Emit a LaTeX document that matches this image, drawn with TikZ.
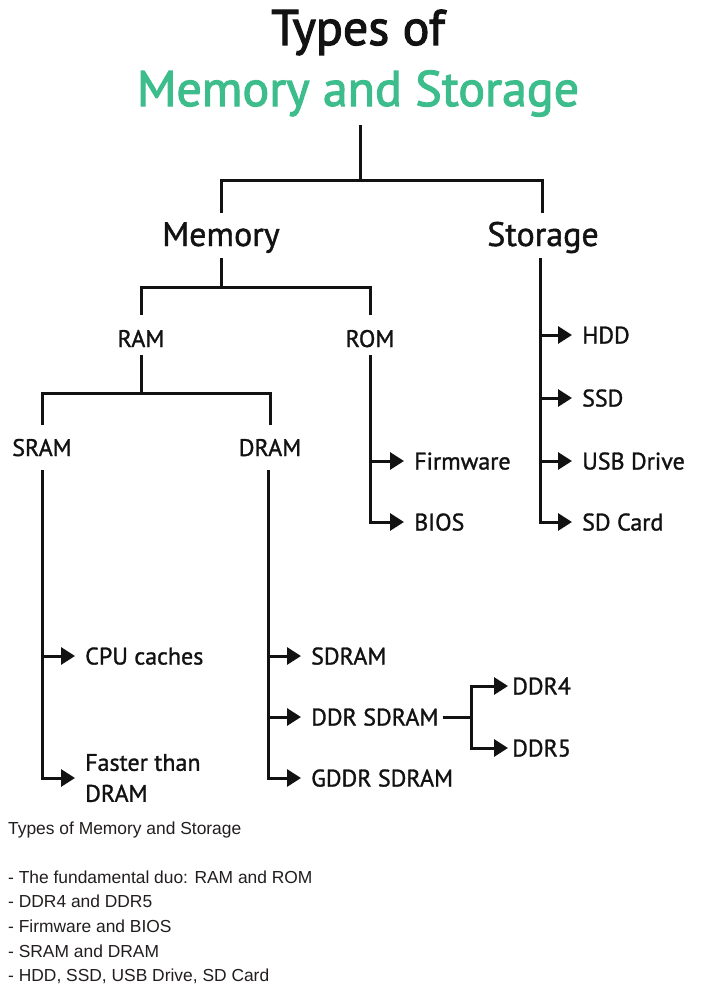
\documentclass[tikz,border=0pt]{standalone}
\usepackage{fontspec}
\setmainfont{PT Sans}
\newfontfamily\labelfont[FakeBold=1.2]{PT Sans}
\newfontfamily\headfont[FakeBold=2.2]{PT Sans}
\newfontfamily\bodyfont{Liberation Sans}
\usetikzlibrary{arrows.meta}
\definecolor{tgreen}{RGB}{61,189,140}
\definecolor{ink}{RGB}{18,18,18}
\definecolor{bodyink}{RGB}{34,30,30}
\begin{document}
\begin{tikzpicture}[x=1pt,y=-1pt,
  conn/.style={line width=3pt, draw=ink},
  arr/.style={conn, -{Triangle[length=14pt,width=17pt]}},
  titlefont/.style={font=\headfont\fontsize{50}{60}\selectfont, inner sep=0pt, anchor=base},
  lvlone/.style={font=\labelfont\fontsize{34}{40}\selectfont, text=ink, inner sep=0pt, anchor=base},
  lvltwo/.style={font=\labelfont\fontsize{24}{28}\selectfont, text=ink, inner sep=0pt, anchor=base},
  leaf/.style={font=\labelfont\fontsize{24}{28}\selectfont, text=ink, anchor=west, inner xsep=10pt, inner ysep=0pt, text height=17pt, text depth=0pt},
  leafnear/.style={leaf, inner xsep=4pt},
  bodytext/.style={font=\bodyfont\fontsize{17.4}{20}\selectfont, text=bodyink, anchor=base west, inner sep=0pt}]
\useasboundingbox (0,0) rectangle (715,998);
\fill[white] (0,0) rectangle (715,998);

% titles
\node[titlefont, text=ink] (t1) at (358,45) {Types of};
\node[titlefont, text=tgreen] (t2) at (358,106) {Memory and Storage};

% level 1
\node[lvlone] (mem) at (221,246) {Memory};
\node[lvlone] (sto) at (543,246) {Storage};

% level 2
\node[lvltwo] (ram) at (141,347) {RAM};
\node[lvltwo] (rom) at (370,347) {ROM};
\node[lvltwo] (sram) at (42,456) {SRAM};
\node[lvltwo] (dram) at (270,456) {DRAM};

% leaves
\node[leaf] (cpu) at (75,656) {CPU caches};
\node[font=\labelfont\fontsize{24}{31}\selectfont, text=ink, anchor=west, inner xsep=10pt, inner ysep=0pt, align=left] (faster) at (75,778) {Faster than\\DRAM};
\node[leaf] (sdram) at (301,656) {SDRAM};
\node[leaf] (ddr) at (301,717) {DDR SDRAM};
\node[leaf] (gddr) at (301,778) {GDDR SDRAM};
\node[leafnear] (ddrfour) at (508,686) {DDR4};
\node[leafnear] (ddrfive) at (508,748) {DDR5};
\node[leaf] (firm) at (404,461) {Firmware};
\node[leaf] (bios) at (404,522) {BIOS};
\node[leaf] (hdd) at (572,335) {HDD};
\node[leaf] (ssd) at (572,398) {SSD};
\node[leaf] (usb) at (572,461) {USB Drive};
\node[leaf] (sd) at (572,522) {SD Card};

% junction coordinates
\coordinate (rootB) at (360,125);
\coordinate (barA) at (360,180);
\coordinate (memT) at (221,213);
\coordinate (stoT) at (542,213);
\coordinate (memB) at (221,258);
\coordinate (barB) at (221,287);
\coordinate (ramT) at (141,315);
\coordinate (romT) at (370,315);
\coordinate (ramB) at (141,355);
\coordinate (barC) at (141,393);
\coordinate (sramT) at (42,425);
\coordinate (dramT) at (270,425);
\coordinate (sramB) at (42,470);
\coordinate (dramB) at (268,470);
\coordinate (romB) at (370,355);
\coordinate (stoB) at (540,258);
\coordinate (ddrJ) at (471,717);

% tree connectors
\draw[conn] (rootB) -- (barA);
\draw[conn] (memT) |- (barA) -| (stoT);
\draw[conn] (memB) -- (barB);
\draw[conn] (ramT) |- (barB) -| (romT);
\draw[conn] (ramB) -- (barC);
\draw[conn] (sramT) |- (barC) -| (dramT);

% SRAM branch
\draw[arr] (sramB) |- (faster.west);
\draw[arr] (sramB |- cpu.west) -- (cpu.west);

% DRAM branch
\draw[arr] (dramB) |- (gddr.west);
\draw[arr] (dramB |- sdram.west) -- (sdram.west);
\draw[arr] (dramB |- ddr.west) -- (ddr.west);
\draw[conn, shorten <=-6pt] (ddr.east) -- (ddrJ);
\draw[arr] (ddrJ) |- (ddrfour.west);
\draw[arr] (ddrJ) |- (ddrfive.west);

% ROM branch
\draw[arr] (romB) |- (bios.west);
\draw[arr] (romB |- firm.west) -- (firm.west);

% Storage branch
\draw[arr] (stoB) |- (sd.west);
\draw[arr] (stoB |- hdd.west) -- (hdd.west);
\draw[arr] (stoB |- ssd.west) -- (ssd.west);
\draw[arr] (stoB |- usb.west) -- (usb.west);

% caption text
\node[bodytext] (c0) at (8,834) {Types of Memory and Storage};
\node[bodytext] (c1) at (8,883) {- The fundamental duo: RAM and ROM};
\node[bodytext] (c2) at (8,907) {- DDR4 and DDR5};
\node[bodytext] (c3) at (8,932) {- Firmware and BIOS};
\node[bodytext] (c4) at (8,957) {- SRAM and DRAM};
\node[bodytext] (c5) at (8,981) {- HDD, SSD, USB Drive, SD Card};
\end{tikzpicture}
\end{document}
